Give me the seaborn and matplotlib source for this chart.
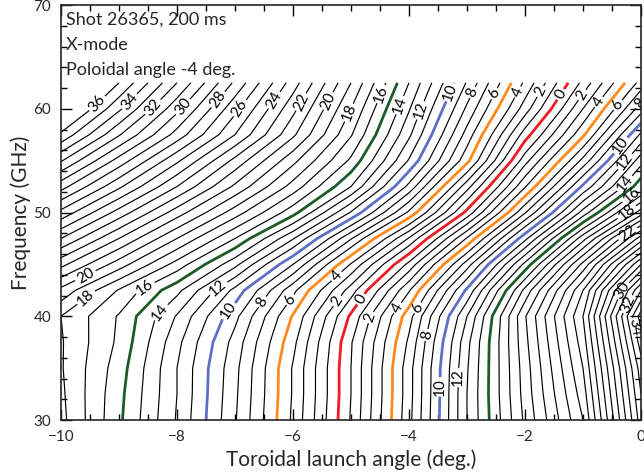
import numpy as np
import matplotlib
matplotlib.use("Agg")
import matplotlib.pyplot as plt
from matplotlib.ticker import MultipleLocator
import seaborn as sns

# toroidal launch angle grid (deg.) and frequency grid (GHz)
angles = [-10, -9, -8, -7, -6, -5, -4, -3, -2, -1, 0]
freqs = [30, 32.5, 35, 37.5, 40, 42.5, 45, 47.5, 50, 52.5, 55, 57.5, 60, 62.5]

# mismatch angle, one row per frequency
mismatch = [
    [-18.3, -15.2, -11.9, -8.1, -3.8, 1.1, 6.7, 13.0, 18.2, 23.0, 32.5],
    [-18.2, -15.3, -12.0, -8.2, -3.9, 1.0, 6.6, 13.0, 18.4, 23.5, 33.0],
    [-18.1, -15.5, -12.0, -8.3, -3.9, 1.0, 6.6, 12.9, 18.5, 24.0, 33.5],
    [-18.1, -15.8, -12.3, -8.6, -4.3, 0.9, 6.2, 12.7, 18.7, 24.5, 34.5],
    [-18.0, -15.9, -12.9, -9.3, -4.9, 0.2, 5.6, 12.0, 18.9, 25.0, 35.5],
    [-19.7, -16.9, -14.3, -10.7, -6.3, -1.5, 3.9, 10.2, 17.3, 24.0, 33.0],
    [-22.3, -19.5, -16.6, -13.3, -9.0, -3.9, 1.3, 7.5, 14.3, 21.3, 29.0],
    [-25.0, -22.0, -19.0, -16.0, -12.1, -7.1, -1.9, 4.1, 10.7, 17.6, 24.5],
    [-27.7, -24.6, -21.5, -18.5, -15.4, -10.9, -5.8, 0.3, 6.9, 13.4, 19.5],
    [-30.4, -27.2, -24.0, -20.8, -17.6, -14.0, -8.7, -2.4, 3.9, 10.2, 15.7],
    [-33.1, -29.6, -26.2, -22.7, -19.3, -15.8, -10.9, -5.3, 1.6, 7.3, 13.6],
    [-35.8, -32.1, -28.6, -25.0, -21.2, -17.1, -12.2, -6.6, -0.5, 4.8, 11.2],
    [-38.0, -34.2, -30.3, -26.3, -22.3, -18.0, -13.1, -7.8, -2.5, 3.0, 8.5],
    [-40.0, -36.0, -32.0, -27.8, -23.5, -19.0, -14.0, -8.9, -3.8, 1.3, 6.4],
]

# where the contour labels sit (angle, frequency)
label_spots = [
    (-9.45, 60.8), (-8.84, 60.8), (-8.34, 59.9), (-7.81, 59.9), (-7.26, 60.8),
    (-6.86, 59.9), (-6.31, 60.8), (-5.88, 60.7), (-5.41, 60.8), (-5.02, 59.6),
    (-4.53, 61.5), (-4.19, 60.4), (-3.84, 59.9), (-3.29, 61.6), (-2.91, 61.6),
    (-2.55, 61.5), (-2.12, 61.6), (-1.79, 61.8), (-1.43, 61.5), (-1.0, 61.3),
    (-0.71, 60.6), (-0.41, 60.4), (-0.07, 60.7), (-0.36, 56.5), (-0.33, 55.1),
    (-0.28, 52.8), (-0.14, 51.5), (-0.2, 49.8), (-0.2, 47.8), (-0.33, 42.5),
    (-0.19, 41.1), (-0.05, 39.0),
    (-9.55, 43.7), (-9.47, 41.3), (-8.55, 42.7), (-8.29, 40.4), (-7.34, 43.0),
    (-7.14, 40.6), (-6.53, 41.4), (-6.05, 41.6), (-5.28, 44.0), (-5.28, 41.6),
    (-4.81, 41.6), (-4.67, 39.9), (-4.2, 40.8), (-3.84, 40.8), (-3.69, 38.2),
    (-3.5, 33.2), (-3.12, 34.1),
]

info_lines = ["Shot 26365, 200 ms", "X-mode", "Poloidal angle -4 deg."]

sns.set_style("ticks")
plt.rcParams['font.family'] = ['Lato', 'DejaVu Sans']

fig = plt.figure(figsize=(6.44, 4.73), dpi=100)
ax = fig.add_axes([0.0947, 0.112, 0.9006, 0.8774])

special = {0: '#ee1c25', 5: '#ff8a1c', 10: '#5f6fc4', 15: '#1d5c2a'}


def style_for(lv):
    c = [special.get(abs(int(v)), 'black') for v in lv]
    w = [2.0 if abs(int(v)) in special else 0.85 for v in lv]
    return c, w


grid = np.array(mismatch)
odd_levels = np.arange(-35, 36, 2)
even_levels = np.arange(-36, 37, 2)

c_odd, w_odd = style_for(odd_levels)
ax.contour(angles, freqs, grid, levels=odd_levels, colors=c_odd, linewidths=w_odd)

c_even, w_even = style_for(even_levels)
cs = ax.contour(angles, freqs, grid, levels=even_levels, colors=c_even,
                linewidths=w_even)
ax.clabel(cs, manual=label_spots, inline=True, inline_spacing=3,
          fontsize=11, colors='black', fmt=lambda v: f"{abs(v):.0f}")

for i, txt in enumerate(info_lines):
    ax.text(0.008, 0.985 - i * 0.061, txt, transform=ax.transAxes,
            fontsize=13, ha='left', va='top')

ax.set_xlim(-10, 0)
ax.set_ylim(30, 70)
ax.xaxis.set_major_locator(MultipleLocator(2))
ax.xaxis.set_minor_locator(MultipleLocator(0.5))
ax.yaxis.set_major_locator(MultipleLocator(10))
ax.yaxis.set_minor_locator(MultipleLocator(2))
ax.tick_params(which='both', direction='in', top=True, right=True,
               labelsize=11, color='black')
ax.tick_params(which='major', length=8, width=1)
ax.tick_params(which='minor', length=4, width=1)
ax.tick_params(axis='x', pad=7)
ax.tick_params(axis='y', pad=7)
for sp in ax.spines.values():
    sp.set_linewidth(1.2)

ax.set_xlabel('Toroidal launch angle (deg.)', fontsize=15, labelpad=4)
ax.set_ylabel('Frequency (GHz)', fontsize=15, labelpad=2)

fig.savefig('out.png', dpi=100)
